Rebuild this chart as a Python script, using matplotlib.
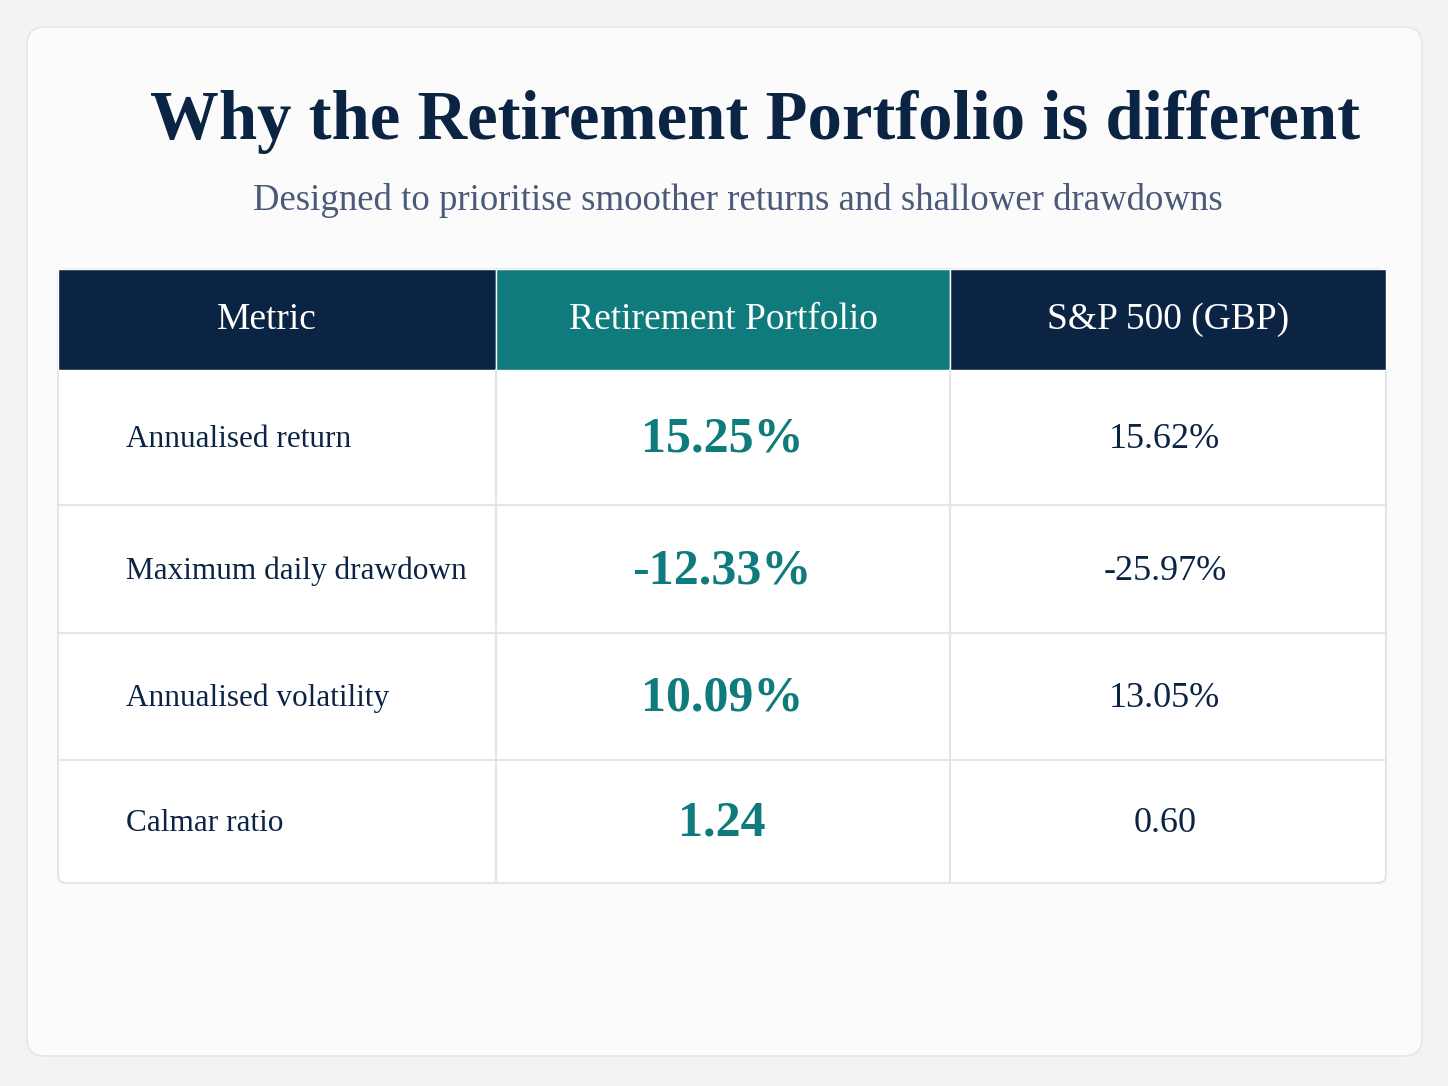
import matplotlib.pyplot as plt
from matplotlib.patches import FancyBboxPatch, Rectangle

# ---------- Table contents ----------
header = ["Metric", "Retirement Portfolio", "S&P 500 (GBP)"]
rows = [
    ["Annualised return", "15.25%", "15.62%"],
    ["Maximum daily drawdown", "-12.33%", "-25.97%"],
    ["Annualised volatility", "10.09%", "13.05%"],
    ["Calmar ratio", "1.24", "0.60"],
]

# Color scheme
navy = '#0c2444'
teal = '#0f7b7c'
grid = '#e3e5e8'

plt.rcParams['font.family'] = ['Liberation Serif', 'DejaVu Serif']

# ---------- Figure in pixel coordinates ----------
fig = plt.figure(figsize=(14.48, 10.86), dpi=100)
fig.patch.set_facecolor('#f3f3f4')
ax = fig.add_axes([0, 0, 1, 1])
ax.set_xlim(0, 1448)
ax.set_ylim(1086, 0)
ax.axis('off')

# card
ax.add_patch(FancyBboxPatch((27, 27), 1395, 1029, boxstyle="round,pad=0,rounding_size=18",
                            facecolor='#fbfbfc', edgecolor='#e6e6e8', linewidth=1.2))

plt.text(755, 122, "Why the Retirement Portfolio is different", ha='center', va='center',
         fontsize=49.5, fontweight='bold', color=navy)
plt.text(738, 201, "Designed to prioritise smoother returns and shallower drawdowns",
         ha='center', va='center', fontsize=26.5, color='#4b5a78')

col_x = [58, 496, 950, 1386]
row_y = [269, 370, 505, 633, 760, 883]

# table body
ax.add_patch(FancyBboxPatch((58, 269), 1328, 614, boxstyle="round,pad=0,rounding_size=8",
                            facecolor='white', edgecolor=grid, linewidth=1.5))
# header
for j in range(3):
    color = teal if j == 1 else navy
    ax.add_patch(Rectangle((col_x[j], 269), col_x[j + 1] - col_x[j], 101, facecolor=color,
                           edgecolor='white', linewidth=1))
    plt.text((col_x[j] + col_x[j + 1]) / 2 + (-10 if j == 0 else 0), 320, header[j],
             ha='center', va='center', fontsize=27, color='white')

# grid lines
for y in row_y[2:-1]:
    ax.plot([58, 1386], [y, y], color=grid, linewidth=1.5)
for x in col_x[1:-1]:
    ax.plot([x, x], [370, 883], color=grid, linewidth=1.5)

for i, row in enumerate(rows):
    yc = (row_y[i + 1] + row_y[i + 2]) / 2 + 2
    plt.text(126, yc, row[0], ha='left', va='center', fontsize=22.5, color=navy)
    plt.text(722, yc, row[1], ha='center', va='center', fontsize=36, fontweight='bold', color=teal)
    plt.text(1165, yc, row[2], ha='center', va='center', fontsize=26, color=navy)

plt.savefig('out.png', dpi=100, facecolor=fig.get_facecolor())
